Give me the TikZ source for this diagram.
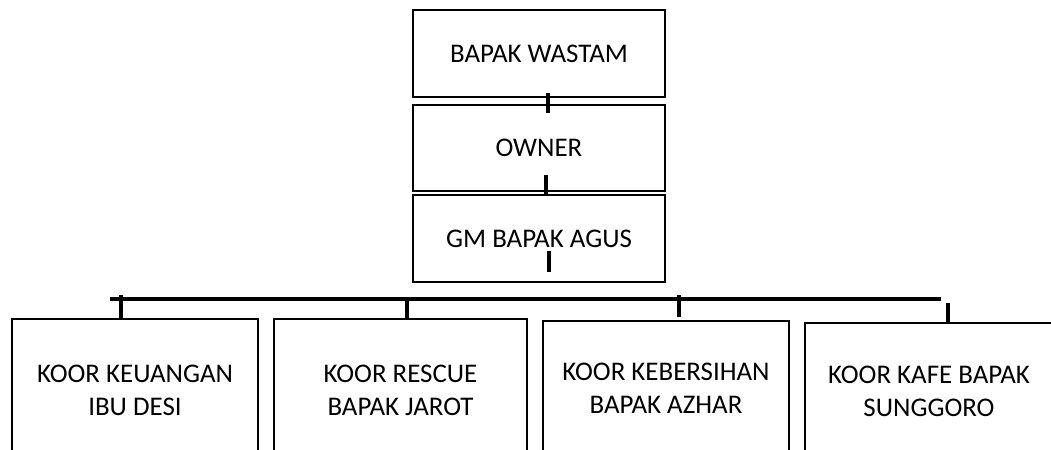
\documentclass[tikz,border=0pt]{standalone}
\usepackage{fontspec}
\setmainfont{Carlito}
\usepackage{tikz}

\begin{document}
\begin{tikzpicture}[
    x=0.75pt, y=-0.75pt,
    every node/.style={draw, line width=1.6pt, inner sep=0pt, align=center,
        font=\fontsize{20.2}{24.75}\selectfont},
    topbox/.style={minimum width=189pt, minimum height=65pt},
    koorbox/.style={minimum height=106.5pt},
    link/.style={line width=2.8pt}
]

\useasboundingbox (0,0) rectangle (1051,450);
\clip (0,0) rectangle (1051,450);

% top column
\node[topbox] (wastam) at (539,53.5) {BAPAK WASTAM};
\node[topbox] (owner) at (539,148) {OWNER};
\node[topbox] (gm) at (539,238.5) {GM BAPAK AGUS};

% koordinator row
\node[koorbox, minimum width=184.5pt] (keuangan) at (135,390) {KOOR KEUANGAN\\IBU DESI};
\node[koorbox, minimum width=189.75pt] (rescue) at (400.5,390) {KOOR RESCUE\\BAPAK JAROT};
\node[koorbox, minimum width=184.5pt, minimum height=100.5pt] (kebersihan) at (666,388) {KOOR KEBERSIHAN\\BAPAK AZHAR};
\node[koorbox, minimum width=186pt, minimum height=102pt] (kafe) at (929,391) {KOOR KAFE BAPAK\\SUNGGORO};

% stubs
\coordinate (w1) at (548,93);
\coordinate (w2) at (548,113);
\coordinate (o1) at (546,175);
\coordinate (o2) at (546,196);
\coordinate (g1) at (549,251);
\coordinate (g2) at (549,272);
\coordinate (barl) at (110,299);
\coordinate (barr) at (941,299);
\coordinate (k1) at (121,295);
\coordinate (r1) at (407,299);
\coordinate (b1) at (679,295);
\coordinate (f1) at (948,303);

\draw[link] (w1) -- (w2);
\draw[link] (o1) -- (o2);
\draw[link] (g1) -- (g2);
\draw[link] (barl) -- (barr);
\draw[link] (k1) -- (keuangan.north -| k1);
\draw[link] (r1) -- (rescue.north -| r1);
\draw[link] (b1) -- ++(0,22);
\draw[link] (f1) -- (kafe.north -| f1);

\end{tikzpicture}
\end{document}
